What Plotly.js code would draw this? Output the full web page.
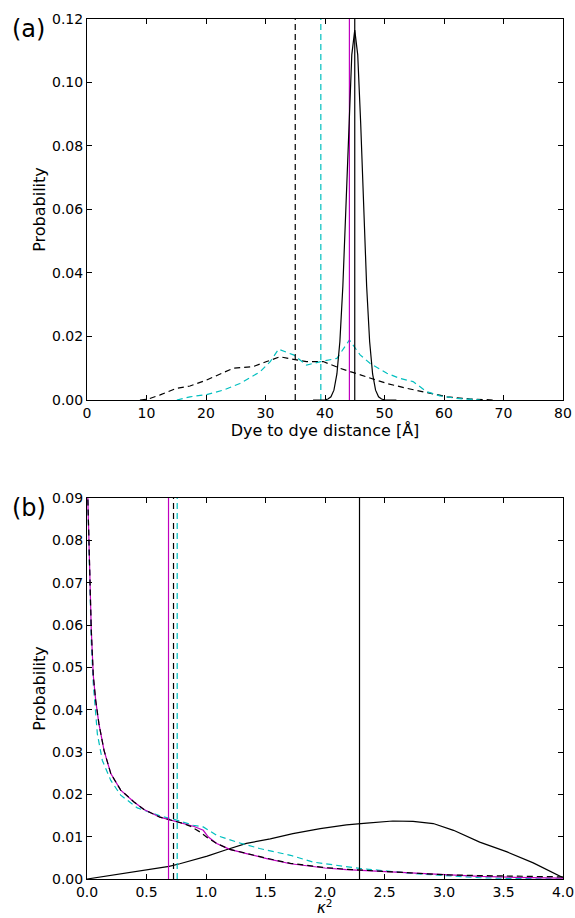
<!DOCTYPE html>
<html>
<head>
<meta charset="utf-8">
<script src="https://cdn.plot.ly/plotly-3.0.1.min.js"></script>
<style>html,body{margin:0;padding:0;background:#fff;}#chart{width:575px;height:918px;}</style>
</head>
<body>
<div id="chart"></div>
<script>
// ---------- Panel (a): dye-to-dye distance ----------
const distBlackSolidX = [38, 39, 39.5, 40, 40.5, 41, 41.5, 42, 42.5, 43, 43.5, 44, 44.5, 45, 45.5, 46, 46.5, 47, 47.5, 48, 48.5, 49, 49.5, 50, 51, 52];
const distBlackSolidY = [0, 0, 0.00001, 0.00007, 0.0003, 0.001, 0.0031, 0.0082, 0.0184, 0.0358, 0.060, 0.087, 0.1087, 0.1165, 0.1087, 0.087, 0.060, 0.0358, 0.0184, 0.0082, 0.0031, 0.001, 0.0003, 0.00007, 0, 0];

const distBlackDashX = [8.9, 10.3, 12.3, 15.1, 17.3, 20.1, 24.6, 27.9, 30.2, 32.4, 34.7, 36.9, 39.7, 42.5, 44.8, 47.6, 50.4, 53.7, 57.1, 60.5, 64.4, 68.2];
const distBlackDashY = [0, 0.0003, 0.0016, 0.0037, 0.0044, 0.0063, 0.0100, 0.0105, 0.0121, 0.0136, 0.0128, 0.0121, 0.0121, 0.0100, 0.0086, 0.0068, 0.0052, 0.0037, 0.0023, 0.0010, 0.0003, 0];

const distCyanDashX = [15.1, 17.3, 20.1, 22.9, 25.7, 29.1, 30.8, 32.2, 34.7, 36.9, 39.3, 42.0, 44.1, 45.9, 47.6, 50.4, 52.6, 54.8, 57.1, 59.3, 62.1, 66.1];
const distCyanDashY = [0, 0.0010, 0.0017, 0.0031, 0.0052, 0.0089, 0.0121, 0.0160, 0.0142, 0.0110, 0.0121, 0.0131, 0.0189, 0.0142, 0.0115, 0.0084, 0.0068, 0.0058, 0.0026, 0.0013, 0.0005, 0];

// vertical mean lines, panel (a)
const distMeanBlackDash = 35.0;
const distMeanCyanDash = 39.3;
const distMeanMagenta = 44.1;
const distMeanBlackSolid = 45.0;
const distYMax = 0.12;

// ---------- Panel (b): kappa^2 ----------
const kBlackSolidX = [0, 0.22, 0.50, 0.69, 0.78, 1.01, 1.17, 1.34, 1.54, 1.73, 1.96, 2.18, 2.35, 2.57, 2.74, 2.91, 3.08, 3.30, 3.53, 3.75, 4.0];
const kBlackSolidY = [0, 0.0009, 0.0022, 0.0030, 0.0036, 0.0054, 0.0069, 0.0084, 0.0095, 0.0107, 0.0119, 0.0128, 0.0132, 0.0137, 0.0136, 0.0131, 0.0115, 0.0087, 0.0064, 0.0038, 0.0003];

const kMagentaX = [0.005, 0.017, 0.025, 0.036, 0.053, 0.073, 0.10, 0.143, 0.20, 0.283, 0.395, 0.479, 0.613, 0.697, 0.80, 0.90, 0.977, 1.02, 1.09, 1.20, 1.34, 1.51, 1.71, 2.0, 2.18, 2.5, 2.74, 3.0, 3.30, 3.6, 4.0];
const kMagentaY = [0.092, 0.080, 0.068, 0.0588, 0.048, 0.0422, 0.0367, 0.0304, 0.0249, 0.0210, 0.0182, 0.0164, 0.0146, 0.0140, 0.0132, 0.0124, 0.0115, 0.0099, 0.0084, 0.0070, 0.0060, 0.0048, 0.0036, 0.0026, 0.0022, 0.0017, 0.0013, 0.0009, 0.0006, 0.0004, 0.0002];

const kBlackDashX = [0.005, 0.017, 0.025, 0.036, 0.053, 0.073, 0.10, 0.143, 0.20, 0.283, 0.395, 0.479, 0.613, 0.697, 0.80, 0.866, 0.95, 1.02, 1.09, 1.20, 1.34, 1.51, 1.71, 2.0, 2.18, 2.5, 2.74, 3.0, 3.30, 3.6, 4.0];
const kBlackDashY = [0.092, 0.080, 0.068, 0.0588, 0.048, 0.0422, 0.0367, 0.0304, 0.0249, 0.0210, 0.0182, 0.0164, 0.0146, 0.0140, 0.0132, 0.0125, 0.0111, 0.0096, 0.0084, 0.0070, 0.0060, 0.0049, 0.0037, 0.0027, 0.0023, 0.0018, 0.0014, 0.0010, 0.0008, 0.0006, 0.0005];

const kCyanDashX = [0.005, 0.017, 0.025, 0.036, 0.053, 0.087, 0.129, 0.2, 0.283, 0.423, 0.613, 0.754, 0.893, 0.977, 1.09, 1.26, 1.45, 1.71, 1.90, 2.29, 2.74, 3.0, 3.3, 3.6, 4.0];
const kCyanDashY = [0.092, 0.078, 0.066, 0.056, 0.046, 0.0343, 0.0280, 0.0233, 0.0198, 0.0168, 0.0149, 0.0139, 0.0127, 0.0123, 0.0103, 0.0087, 0.0072, 0.0056, 0.0040, 0.0025, 0.0013, 0.0008, 0.0003, 0.0001, 0];

// vertical mean lines, panel (b)
const kMeanMagenta = 0.685;
const kMeanBlackDash = 0.727;
const kMeanCyanDash = 0.758;
const kMeanBlackSolid = 2.29;
const kYMax = 0.09;

const BLACK = '#000000';
const CYAN = '#00BFBF';
const MAGENTA = '#BF00BF';
const DASH = '6px,4px';

function curve(x, y, color, dash, xa, ya) {
  return {x: x, y: y, type: 'scatter', mode: 'lines', xaxis: xa, yaxis: ya,
          line: {color: color, width: 1.2, dash: dash || 'solid'}, hoverinfo: 'skip', showlegend: false};
}
function vline(v, ymax, color, dash, xa, ya) {
  return curve([v, v], [0, ymax], color, dash, xa, ya);
}

const traces = [
  curve(distBlackDashX, distBlackDashY, BLACK, DASH, 'x', 'y'),
  curve(distCyanDashX, distCyanDashY, CYAN, DASH, 'x', 'y'),
  vline(distMeanBlackDash, distYMax, BLACK, DASH, 'x', 'y'),
  vline(distMeanCyanDash, distYMax, CYAN, DASH, 'x', 'y'),
  vline(distMeanMagenta, distYMax, MAGENTA, 'solid', 'x', 'y'),
  vline(distMeanBlackSolid, distYMax, BLACK, 'solid', 'x', 'y'),
  curve(distBlackSolidX, distBlackSolidY, BLACK, 'solid', 'x', 'y'),

  curve(kBlackSolidX, kBlackSolidY, BLACK, 'solid', 'x2', 'y2'),
  curve(kCyanDashX, kCyanDashY, CYAN, DASH, 'x2', 'y2'),
  curve(kMagentaX, kMagentaY, MAGENTA, 'solid', 'x2', 'y2'),
  curve(kBlackDashX, kBlackDashY, BLACK, DASH, 'x2', 'y2'),
  vline(kMeanMagenta, kYMax, MAGENTA, 'solid', 'x2', 'y2'),
  vline(kMeanBlackDash, kYMax, BLACK, DASH, 'x2', 'y2'),
  vline(kMeanCyanDash, kYMax, CYAN, DASH, 'x2', 'y2'),
  vline(kMeanBlackSolid, kYMax, BLACK, 'solid', 'x2', 'y2')
];

const FONT = 'DejaVu Sans, sans-serif';
const TITLE_FONT = {family: FONT, size: 16, color: BLACK};
const axisCommon = {
  showline: true, linecolor: BLACK, linewidth: 1, mirror: 'allticks',
  ticks: 'inside', ticklen: 5, tickwidth: 1, tickcolor: BLACK,
  showgrid: false, zeroline: false, tickfont: {family: FONT, size: 14, color: BLACK}
};

const layout = {
  width: 575, height: 918,
  margin: {l: 87, r: 12, t: 19, b: 39},
  paper_bgcolor: '#fff', plot_bgcolor: '#fff',
  font: {family: FONT, color: BLACK},
  xaxis: Object.assign({}, axisCommon, {domain: [0, 1], anchor: 'y', range: [0, 80], dtick: 10, tick0: 0,
    title: {text: 'Dye to dye distance [Å]', font: TITLE_FONT, standoff: 3}}),
  yaxis: Object.assign({}, axisCommon, {domain: [0.557, 1], anchor: 'x', range: [0, 0.12], dtick: 0.02, tick0: 0, tickformat: '.2f',
    title: {text: 'Probability', font: TITLE_FONT}}),
  xaxis2: Object.assign({}, axisCommon, {domain: [0, 1], anchor: 'y2', range: [0, 4], dtick: 0.5, tick0: 0, tickformat: '.1f'}),
  yaxis2: Object.assign({}, axisCommon, {domain: [0, 0.443], anchor: 'x2', range: [0, 0.09], dtick: 0.01, tick0: 0, tickformat: '.2f',
    title: {text: 'Probability', font: TITLE_FONT}}),
  annotations: [
    {text: '(a)', xref: 'paper', yref: 'paper', x: -0.122, y: 0.988, xanchor: 'center', yanchor: 'middle', showarrow: false,
     font: {family: FONT, size: 24, color: BLACK}},
    {text: '(b)', xref: 'paper', yref: 'paper', x: -0.122, y: 0.431, xanchor: 'center', yanchor: 'middle', showarrow: false,
     font: {family: FONT, size: 24, color: BLACK}},
    {text: '<i>κ</i><sup>2</sup>', xref: 'paper', yref: 'paper', x: 0.5, y: -0.0448, xanchor: 'center', yanchor: 'bottom', showarrow: false,
     borderpad: 0, font: {family: FONT, size: 15, color: BLACK}}
  ]
};

Plotly.newPlot('chart', traces, layout, {staticPlot: true, displayModeBar: false});
</script>
</body>
</html>
